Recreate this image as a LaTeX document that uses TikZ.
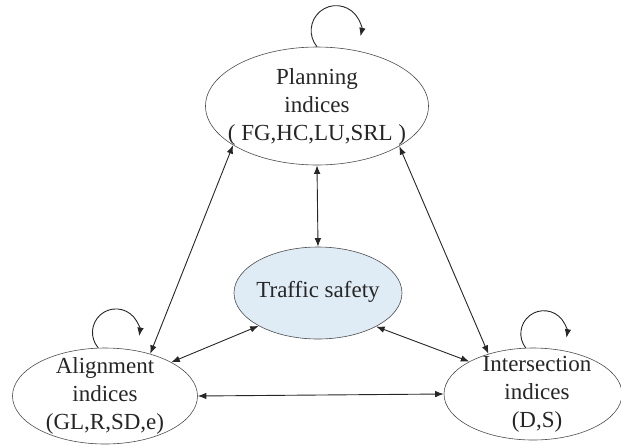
\documentclass[tikz,border=0pt]{standalone}
\usepackage{fontspec}
\setmainfont{Liberation Serif}
\usetikzlibrary{shapes.geometric,arrows.meta}
\definecolor{safetyblue}{RGB}{223,236,245}
\begin{document}
\begin{tikzpicture}
    [   x=1pt,y=-1pt,
        enode/.style={draw=black!70,line width=0.6pt,ellipse,inner sep=0pt,fill=#1},
        tnode/.style={align=center,font=\fontsize{23}{28}\selectfont,inner sep=0pt,text=black!85},
        link/.style={{Latex[length=8.5pt,width=6.5pt]}-{Latex[length=8.5pt,width=6.5pt]},line width=0.9pt,draw=black!85},
        self/.style={-{Latex[length=8.5pt,width=6.5pt]},line width=0.9pt,draw=black!85},
    ]
        \useasboundingbox (0,0) rectangle (621,445);
        \node[enode=white,minimum width=223pt,minimum height=118pt] (plan) at (317,106) {};
        \node[enode=safetyblue,minimum width=168pt,minimum height=92pt] (safe) at (318,293) {};
        \node[enode=white,minimum width=185pt,minimum height=96pt] (align) at (105,396) {};
        \node[enode=white,minimum width=178pt,minimum height=92pt] (inter) at (533,394) {};
        \node[tnode] (plan-txt) at (317,107) {Planning\\indices\\( FG,HC,LU,SRL )};
        \node[tnode] (safe-txt) at (318,292) {Traffic safety};
        \node[tnode] (align-txt) at (105,396) {Alignment\\indices\\(GL,R,SD,e)};
        \node[tnode] (inter-txt) at (537,394) {Intersection\\indices\\(D,S)};
        \draw[link] (plan.205) -- (align.43);
        \draw[link] (plan.334) -- (inter.138);
        \draw[link] (plan.south) -- (safe.north);
        \draw[link] (safe.209) -- (align.27);
        \draw[link] (safe.330) -- (inter.153);
        \draw[link] (align.east) -- (inter.west);
        \draw[self] (plan.north) arc[start angle=220,end angle=-13,radius=25pt];
        \draw[self] (align.98) arc[start angle=221,end angle=-9,radius=23.5pt];
        \draw[self] (inter.99) arc[start angle=218,end angle=-10,radius=23pt];
    \end{tikzpicture}
\end{document}
